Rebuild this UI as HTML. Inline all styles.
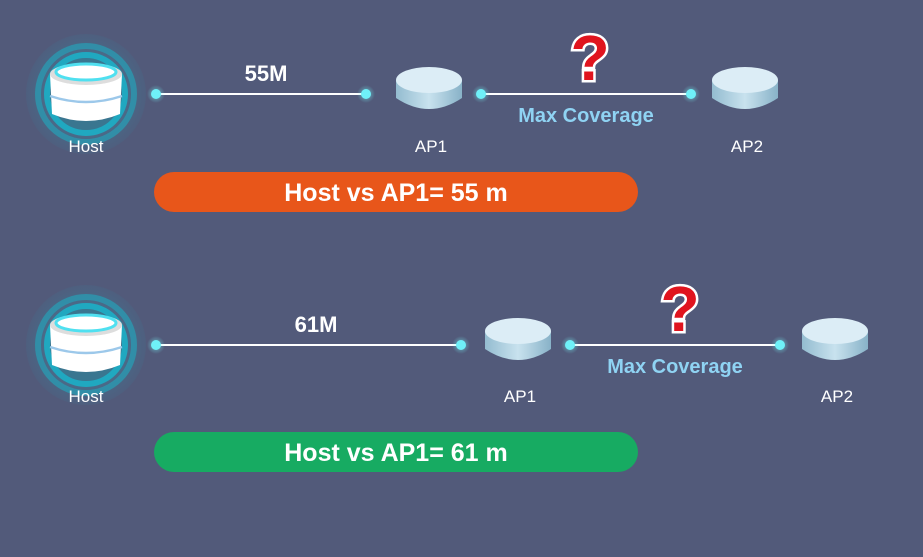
<!DOCTYPE html>
<html><head><meta charset="utf-8"><style>
body{margin:0;background:#525a7a;}
svg{display:block;font-family:"Liberation Sans",sans-serif;}
</style></head><body>
<svg width="923" height="557" viewBox="0 0 923 557" xmlns="http://www.w3.org/2000/svg">
<defs>
<linearGradient id="pk" x1="0" y1="0" x2="1" y2="0">
<stop offset="0" stop-color="#94bcd0"/><stop offset="0.5" stop-color="#c8e2ee"/><stop offset="1" stop-color="#88b2c8"/></linearGradient>
<radialGradient id="glow"><stop offset="0" stop-color="#7ff" stop-opacity="0.6"/><stop offset="1" stop-color="#7ff" stop-opacity="0"/></radialGradient>
<radialGradient id="hg"><stop offset="0.5" stop-color="#3a90a8" stop-opacity="0.5"/><stop offset="1" stop-color="#3a7a98" stop-opacity="0.15"/></radialGradient>
<g id="host">
<circle r="60" fill="url(#hg)"/>
<circle r="48" fill="none" stroke="#2b98b0" stroke-width="6" opacity="0.8"/>
<circle r="39" fill="#3a7690" stroke="#20a8c0" stroke-width="6"/>
<path d="M-36,-20 L-34,20 Q0,34 34,20 L36,-20 Z" fill="#fff"/>
<path d="M-36,2 Q0,14 36,2" fill="none" stroke="#9cc8ea" stroke-width="2.5"/>
<ellipse cx="0" cy="-20" rx="36" ry="11" fill="#ddd"/>
<ellipse cx="0" cy="-22" rx="30" ry="8" fill="#fff" stroke="#4fe0f0" stroke-width="3"/>
</g>
<g id="ap">
<path d="M-33,-10 L-33,8 Q0,30 33,8 L33,-10 Z" fill="url(#pk)"/>
<ellipse cx="0" cy="-10" rx="33" ry="13" fill="#dcedf6"/>
</g>
<g id="dot"><circle r="9" fill="url(#glow)"/><circle r="5" fill="#6ff0f8"/></g>
<g id="q">
<text x="0" y="0" text-anchor="middle" font-size="64" font-weight="bold" fill="#e0141e" stroke="#fff" stroke-width="5" paint-order="stroke">?</text>
</g>
</defs>

<use href="#host" x="86" y="94"/>
<text x="86" y="152" text-anchor="middle" font-size="17" fill="#fff">Host</text>
<line x1="156" y1="94" x2="366" y2="94" stroke="#fff" stroke-width="2"/>
<use href="#dot" x="156" y="94"/><use href="#dot" x="366" y="94"/>
<text x="266" y="81" text-anchor="middle" font-size="22" font-weight="bold" fill="#fff">55M</text>
<use href="#ap" x="429" y="90"/>
<text x="431" y="152" text-anchor="middle" font-size="17" fill="#fff">AP1</text>
<line x1="481" y1="94" x2="691" y2="94" stroke="#fff" stroke-width="2"/>
<use href="#dot" x="481" y="94"/><use href="#dot" x="691" y="94"/>
<use href="#q" x="590" y="80"/>
<text x="586" y="122" text-anchor="middle" font-size="20" font-weight="bold" fill="#8fd3f3">Max Coverage</text>
<use href="#ap" x="745" y="90"/>
<text x="747" y="152" text-anchor="middle" font-size="17" fill="#fff">AP2</text>
<rect x="154" y="172" width="484" height="40" rx="20" fill="#e8561a"/>
<text x="396" y="201" text-anchor="middle" font-size="25" font-weight="bold" fill="#fff">Host vs AP1= 55 m</text>

<use href="#host" x="86" y="345"/>
<text x="86" y="402" text-anchor="middle" font-size="17" fill="#fff">Host</text>
<line x1="156" y1="345" x2="461" y2="345" stroke="#fff" stroke-width="2"/>
<use href="#dot" x="156" y="345"/><use href="#dot" x="461" y="345"/>
<text x="316" y="332" text-anchor="middle" font-size="22" font-weight="bold" fill="#fff">61M</text>
<use href="#ap" x="518" y="341"/>
<text x="520" y="402" text-anchor="middle" font-size="17" fill="#fff">AP1</text>
<line x1="570" y1="345" x2="780" y2="345" stroke="#fff" stroke-width="2"/>
<use href="#dot" x="570" y="345"/><use href="#dot" x="780" y="345"/>
<use href="#q" x="680" y="331"/>
<text x="675" y="373" text-anchor="middle" font-size="20" font-weight="bold" fill="#8fd3f3">Max Coverage</text>
<use href="#ap" x="835" y="341"/>
<text x="837" y="402" text-anchor="middle" font-size="17" fill="#fff">AP2</text>
<rect x="154" y="432" width="484" height="40" rx="20" fill="#17ab62"/>
<text x="396" y="461" text-anchor="middle" font-size="25" font-weight="bold" fill="#fff">Host vs AP1= 61 m</text>
</svg>
</body></html>
